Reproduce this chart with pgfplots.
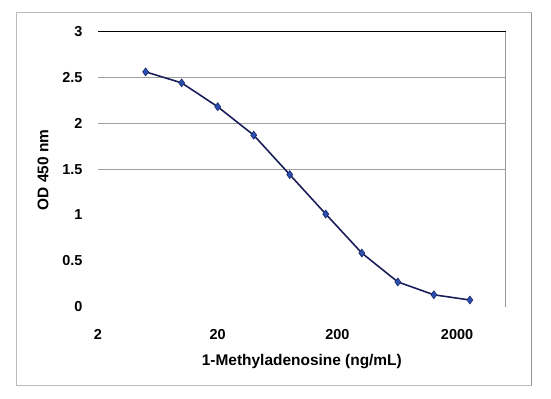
\documentclass[border=0pt]{standalone}
\usepackage{pgfplots}
\pgfplotsset{compat=1.18}
\usepackage{fontspec}
\setmainfont{Liberation Sans}
\definecolor{navyline}{HTML}{1A1F5A}
\definecolor{markblue}{HTML}{2A4FB0}
\definecolor{markdark}{HTML}{1A2A6A}
\begin{document}
\begin{tikzpicture}
\path[use as bounding box] (0,0) rectangle (551bp,-399bp);
\draw[color=gray!55, line width=0.9pt] (16bp,-12.5bp) rectangle (531.5bp,-385bp);
\draw[color=gray!85, line width=1.4pt] (531.5bp,-12.5bp) -- (531.5bp,-385bp);
\begin{axis}[
  at={(98bp,-306.7bp)}, anchor=south west,
  scale only axis, width=407.7bp, height=275.2bp,
  xmode=log, log basis x=10,
  xmin=2, xmax=5100, ymin=0, ymax=3,
  xtick={2,20,200,2000}, xticklabels={2,20,200,2000},
  minor xtick={},
  ytick={0,0.5,1,1.5,2,2.5,3}, yticklabels={0,0.5,1,1.5,2,2.5,3},
  axis line style={draw=none},
  tick style={draw=none},
  tick label style={font=\fontsize{14.5}{16}\selectfont\bfseries},
  yticklabel shift=12bp,
  xticklabel shift=19bp,
  extra y ticks={1.5,2,2.5},
  extra y tick labels={},
  extra y tick style={grid=major, major grid style={gray!75, line width=0.8pt}},
  xlabel={1-Methyladenosine (ng/mL)},
  ylabel={OD 450 nm},
  every axis x label/.style={at={(axis description cs:0.5,-0.201)}, anchor=center, font=\fontsize{15.5}{18}\selectfont\bfseries},
  every axis y label/.style={at={(axis description cs:-0.135,0.497)}, anchor=center, rotate=90, font=\fontsize{15.5}{18}\selectfont\bfseries},
  clip=false,
]
\draw[black, line width=1pt] (rel axis cs:0,1) -- (rel axis cs:1,1);
\draw[gray!80, line width=0.8pt] (rel axis cs:1,0) -- (rel axis cs:1,1);
\addplot[color=navyline, line width=1.6pt, mark=diamond*, mark size=4pt,
  mark options={fill=markblue, draw=markdark, line width=0.6pt}]
  coordinates {
  (5,2.56) (10,2.44) (20,2.18) (40,1.87) (80,1.44)
  (160,1.01) (320,0.585) (640,0.27) (1280,0.13) (2560,0.073)
  };
\end{axis}
\end{tikzpicture}
\end{document}
